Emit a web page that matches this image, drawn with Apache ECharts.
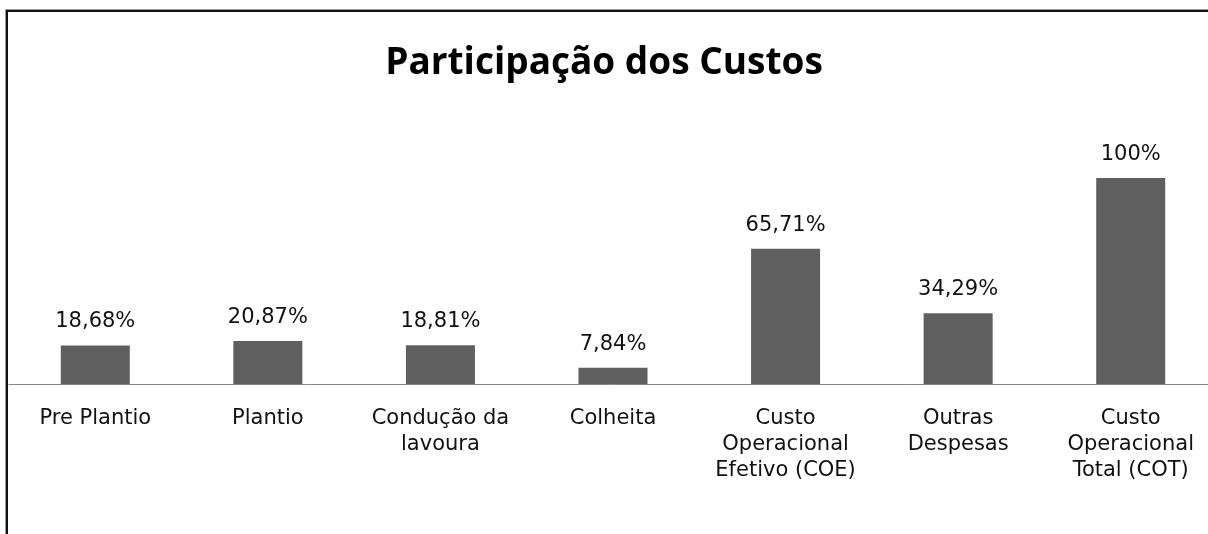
<!DOCTYPE html>
<html>
<head>
<meta charset="utf-8">
<script src="https://cdn.jsdelivr.net/npm/echarts@6/dist/echarts.min.js"></script>
<style>
  html, body { margin: 0; padding: 0; background: #fff; overflow: hidden; }
  #chart { width: 1208px; height: 534px; }
  #frame {
    position: absolute; left: 6px; top: 10px; width: 1202px; height: 524px;
    border-left: 2px solid #111; border-top: 2px solid #111;
    box-shadow: -1px -1px 0 #999; pointer-events: none;
  }
</style>
</head>
<body>
<div id="chart"></div>
<div id="frame"></div>
<script>
const titleText = 'Participação dos Custos';
const categories = [
  'Pre Plantio',
  'Plantio',
  'Condução da\nlavoura',
  'Colheita',
  'Custo\nOperacional\nEfetivo (COE)',
  'Outras\nDespesas',
  'Custo\nOperacional\nTotal (COT)'
];
const shares = [18.68, 20.87, 18.81, 7.84, 65.71, 34.29, 100];

const chart = echarts.init(document.getElementById('chart'));

const option = {
  animation: false,
  title: {
    text: titleText,
    left: 'center',
    top: 40,
    textStyle: {
      fontFamily: 'Open Sans',
      fontWeight: 'bold',
      fontSize: 37,
      color: '#000'
    }
  },
  grid: {
    left: 9,
    width: 1208,
    top: 178,
    bottom: 150,
    containLabel: false,
    outerBoundsMode: 'none'
  },
  xAxis: {
    type: 'category',
    data: categories,
    axisLine: { lineStyle: { color: '#888', width: 1 } },
    axisTick: { show: false },
    axisLabel: {
      interval: 0,
      margin: 22,
      fontFamily: 'DejaVu Sans',
      fontSize: 21,
      lineHeight: 26,
      color: '#111'
    }
  },
  yAxis: {
    type: 'value',
    min: 0,
    max: 100,
    show: false,
    splitLine: { show: false }
  },
  series: [{
    type: 'bar',
    data: shares,
    barWidth: 69,
    itemStyle: { color: '#5f5f5f' },
    label: {
      show: true,
      position: 'top',
      distance: 13,
      fontFamily: 'DejaVu Sans',
      fontSize: 21,
      color: '#111',
      formatter: (p) => String(p.value).replace('.', ',') + '%'
    }
  }]
};

chart.setOption(option);
</script>
</body>
</html>
